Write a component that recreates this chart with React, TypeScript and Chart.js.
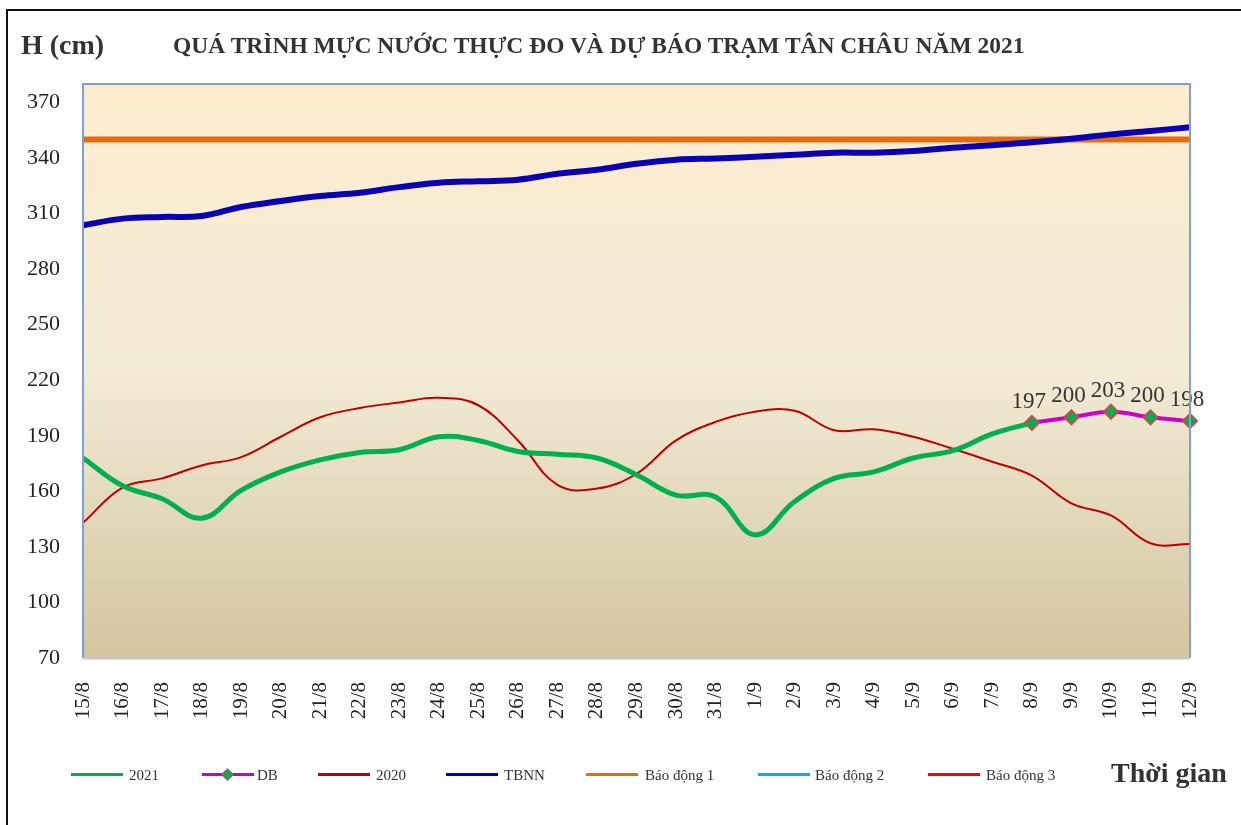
import React, { useEffect, useRef } from "react";
import { Chart, registerables } from "chart.js";

Chart.register(...registerables);

const categories = [
  "15/8", "16/8", "17/8", "18/8", "19/8", "20/8", "21/8", "22/8", "23/8", "24/8",
  "25/8", "26/8", "27/8", "28/8", "29/8", "30/8", "31/8", "1/9", "2/9", "3/9",
  "4/9", "5/9", "6/9", "7/9", "8/9", "9/9", "10/9", "11/9", "12/9",
];

const series2021 = [
  178, 163, 156, 145.5, 160.5, 170.5, 177, 181, 182.5, 189.5,
  187.5, 181.5, 180, 178, 169, 158, 157, 136.5, 154.5, 167,
  170.5, 178, 182, 191, 197, null, null, null, null,
];

const seriesDB = [
  null, null, null, null, null, null, null, null, null, null,
  null, null, null, null, null, null, null, null, null, null,
  null, null, null, null, 197, 200, 203, 200, 198,
];

const series2020 = [
  143, 162, 167, 174, 178.5, 189.5, 200, 205, 208, 210.5,
  206.5, 187.5, 163.5, 161.5, 169.5, 187.5, 197.5, 203, 203.5, 193,
  193.5, 189.5, 183, 176, 168.5, 153.5, 147, 132, 131.5,
];

const seriesTBNN = [
  303.7, 307.3, 308.2, 308.7, 313.6, 316.8, 319.5, 321.3, 324.3, 326.7,
  327.5, 328.3, 331.5, 333.7, 336.9, 339.1, 339.8, 340.7, 341.8, 342.9,
  342.9, 343.8, 345.6, 346.9, 348.6, 350.4, 352.8, 354.6, 356.7,
];

const baoDong1 = categories.map(() => 350);
const baoDong2 = categories.map(() => 400);
const baoDong3 = categories.map(() => 450);

const yTicks = [70, 100, 130, 160, 190, 220, 250, 280, 310, 340, 370];

const legendItems = [
  { label: "2021", color: "#00B050", left: 71, textLeft: 129, marker: false },
  { label: "DB", color: "#CC00CC", left: 202, textLeft: 257, marker: true },
  { label: "2020", color: "#C00000", left: 318, textLeft: 376, marker: false },
  { label: "TBNN", color: "#0000C0", left: 446, textLeft: 504, marker: false },
  { label: "Báo động 1", color: "#E46C0A", left: 586, textLeft: 645, marker: false },
  { label: "Báo động 2", color: "#00B0F0", left: 758, textLeft: 815, marker: false },
  { label: "Báo động 3", color: "#FF0000", left: 928, textLeft: 986, marker: false },
];

const SERIF = "'Liberation Serif', 'Times New Roman', serif";

const bgPlugin = {
  id: "plotBg",
  beforeDraw(chart: any) {
    const { ctx, chartArea } = chart;
    if (!chartArea) return;
    const g = ctx.createLinearGradient(0, chartArea.top, 0, chartArea.bottom);
    g.addColorStop(0, "#FDEDCF");
    g.addColorStop(0.5, "#F2EBD6");
    g.addColorStop(1, "#D2C59F");
    ctx.save();
    ctx.fillStyle = g;
    ctx.fillRect(chartArea.left, chartArea.top, chartArea.right - chartArea.left, chartArea.bottom - chartArea.top);
    ctx.restore();
  },
  afterDraw(chart: any) {
    const { ctx, chartArea } = chart;
    ctx.save();
    ctx.lineWidth = 2;
    ctx.strokeStyle = "#7FA1CF";
    ctx.beginPath();
    ctx.moveTo(chartArea.left, chartArea.bottom);
    ctx.lineTo(chartArea.left, chartArea.top);
    ctx.lineTo(chartArea.right, chartArea.top);
    ctx.lineTo(chartArea.right, chartArea.bottom);
    ctx.stroke();
    ctx.strokeStyle = "#C8C8C8";
    ctx.beginPath();
    ctx.moveTo(chartArea.left, chartArea.bottom + 0.5);
    ctx.lineTo(chartArea.right, chartArea.bottom + 0.5);
    ctx.stroke();
    ctx.restore();
  },
};

const labelPlugin = {
  id: "dbLabels",
  afterDatasetsDraw(chart: any) {
    const meta = chart.getDatasetMeta(1);
    const { ctx } = chart;
    ctx.save();
    ctx.font = `23px ${SERIF}`;
    ctx.fillStyle = "#333333";
    ctx.textAlign = "center";
    ctx.textBaseline = "middle";
    meta.data.forEach((pt: any, i: number) => {
      const v = seriesDB[i];
      if (v == null) return;
      ctx.fillText(String(v), pt.x - 3, pt.y - 21);
    });
    ctx.restore();
  },
};

export default function App() {
  const ref = useRef<HTMLCanvasElement | null>(null);

  useEffect(() => {
    if (!ref.current) return;
    const chart = new Chart(ref.current, {
      type: "line",
      data: {
        labels: categories,
        datasets: [
          {
            label: "2021",
            data: series2021,
            borderColor: "#00B050",
            borderWidth: 5,
            pointRadius: 0,
            tension: 0.4,
            order: 2,
          },
          {
            label: "DB",
            data: seriesDB,
            borderColor: "#CC00CC",
            borderWidth: 4,
            pointStyle: "rectRot",
            pointRadius: 7,
            pointBackgroundColor: "#00B050",
            pointBorderColor: "#C0504D",
            pointBorderWidth: 2,
            tension: 0.4,
            order: 1,
          },
          {
            label: "2020",
            data: series2020,
            borderColor: "#C00000",
            borderWidth: 2,
            pointRadius: 0,
            tension: 0.4,
            order: 3,
          },
          {
            label: "TBNN",
            data: seriesTBNN,
            borderColor: "#0A00B4",
            borderWidth: 6,
            pointRadius: 0,
            tension: 0.4,
            order: 4,
          },
          {
            label: "Báo động 1",
            data: baoDong1,
            borderColor: "#E46C0A",
            borderWidth: 6,
            pointRadius: 0,
            order: 5,
          },
          {
            label: "Báo động 2",
            data: baoDong2,
            borderColor: "#00B0F0",
            borderWidth: 3,
            pointRadius: 0,
            order: 6,
          },
          {
            label: "Báo động 3",
            data: baoDong3,
            borderColor: "#FF0000",
            borderWidth: 3,
            pointRadius: 0,
            order: 7,
          },
        ],
      },
      options: {
        animation: false,
        responsive: false,
        devicePixelRatio: 1,
        spanGaps: false,
        layout: { padding: { left: 0, top: 84, right: 51, bottom: 0 } },
        plugins: {
          legend: { display: false },
          tooltip: { enabled: false },
          title: { display: false },
        },
        scales: {
          x: {
            offset: false,
            grid: { display: false, drawTicks: false },
            border: { display: false },
            ticks: {
              autoSkip: false,
              minRotation: 90,
              maxRotation: 90,
              padding: 24,
              color: "#222222",
              font: { family: SERIF, size: 21 },
            },
            afterFit(scale: any) {
              scale.height = 167;
            },
          },
          y: {
            min: 70,
            max: 380,
            grid: { display: false, drawTicks: false },
            border: { display: false },
            ticks: {
              stepSize: 30,
              padding: 23,
              color: "#222222",
              font: { family: SERIF, size: 22 },
            },
            afterBuildTicks(scale: any) {
              scale.ticks = yTicks.map((v) => ({ value: v }));
            },
            afterFit(scale: any) {
              scale.width = 83;
            },
          },
        },
      },
      plugins: [bgPlugin, labelPlugin],
    } as any);
    return () => chart.destroy();
  }, []);

  return (
    <div style={{ position: "absolute", left: 0, top: 0, width: 1241, height: 825, background: "#ffffff", overflow: "hidden", fontFamily: SERIF }}>
      <div style={{ position: "absolute", left: 6, top: 9, width: 1260, height: 840, border: "2px solid #111111", boxSizing: "border-box" }} />
      <canvas ref={ref} width={1241} height={825} style={{ position: "absolute", left: 0, top: 0 }} />
      <div style={{ position: "absolute", left: 21, top: 27, fontSize: 28, fontWeight: "bold", color: "#333333", whiteSpace: "nowrap", lineHeight: "36px" }}>H (cm)</div>
      <div style={{ position: "absolute", left: 173, top: 29, fontSize: 23.5, fontWeight: "bold", color: "#333333", whiteSpace: "nowrap", lineHeight: "32px" }}>
        QUÁ TRÌNH MỰC NƯỚC THỰC ĐO VÀ DỰ BÁO TRẠM TÂN CHÂU NĂM 2021
      </div>
      {legendItems.map((it) => (
        <React.Fragment key={it.label}>
          <div style={{ position: "absolute", left: it.left, top: 773, width: 52, height: 3, background: it.color }} />
          {it.marker && (
            <div style={{ position: "absolute", left: it.left + 21, top: 770, width: 7, height: 7, background: "#00B050", border: "1px solid #C0504D", transform: "rotate(45deg)" }} />
          )}
          <div style={{ position: "absolute", left: it.textLeft, top: 765, fontSize: 15, color: "#333333", whiteSpace: "nowrap", lineHeight: "20px" }}>{it.label}</div>
        </React.Fragment>
      ))}
      <div style={{ position: "absolute", left: 1111, top: 756, fontSize: 28, fontWeight: "bold", color: "#333333", whiteSpace: "nowrap", lineHeight: "34px" }}>Thời gian</div>
    </div>
  );
}
